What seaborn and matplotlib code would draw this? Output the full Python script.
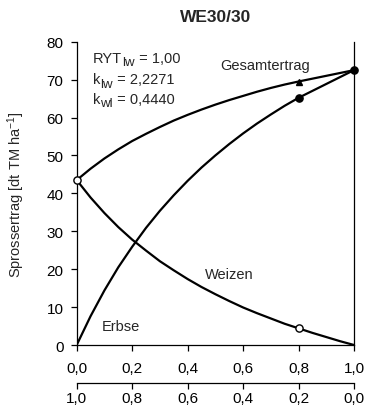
import matplotlib
matplotlib.use("Agg")
import matplotlib.pyplot as plt
import seaborn as sns
import numpy as np
from matplotlib.ticker import FuncFormatter

sns.set_theme(style="white")
plt.rcParams['font.family'] = ['Liberation Sans', 'DejaVu Sans']
plt.rcParams['mathtext.fontset'] = 'custom'
plt.rcParams['mathtext.rm'] = 'Liberation Sans'
plt.rcParams['mathtext.it'] = 'Liberation Sans:italic'
plt.rcParams['mathtext.bf'] = 'Liberation Sans:bold'

# ---- data ----
title = "WE30/30"

# proportion of Erbse in the mixture (top x axis)
x_erbse = [0.00, 0.05, 0.10, 0.15, 0.20, 0.25, 0.30, 0.35, 0.40, 0.45,
           0.50, 0.55, 0.60, 0.65, 0.70, 0.75, 0.80, 1.00]
erbse = [0.0, 7.6, 14.4, 20.5, 25.9, 30.9, 35.4, 39.5, 43.3, 46.8,
         50.0, 53.0, 55.8, 58.4, 60.8, 63.1, 65.2, 72.5]
gesamt = [43.5, 46.5, 49.2, 51.6, 53.8, 55.7, 57.5, 59.2, 60.7, 62.1,
          63.4, 64.6, 65.7, 66.8, 67.8, 68.7, 69.5, 72.5]

x_weizen = [0.00, 0.05, 0.10, 0.15, 0.20, 0.25, 0.30, 0.35, 0.40, 0.45,
            0.50, 0.55, 0.60, 0.65, 0.70, 0.75, 0.80, 0.85, 0.90, 0.95, 1.00]
weizen = [43.5, 38.9, 34.8, 31.1, 27.8, 24.9, 22.1, 19.7, 17.4, 15.3,
          13.4, 11.6, 9.9, 8.4, 7.0, 5.6, 4.4, 3.2, 2.1, 1.0, 0.0]

# measured points
weizen_pts_x = [0.0, 0.8]
weizen_pts_y = [43.5, 4.4]
erbse_pts_x = [0.8, 1.0]
erbse_pts_y = [65.2, 72.5]
gesamt_pts_x = [0.8]
gesamt_pts_y = [69.5]

x_ticks = [0.0, 0.2, 0.4, 0.6, 0.8, 1.0]
y_ticks = [0, 10, 20, 30, 40, 50, 60, 70, 80]

# (main, subscript, rest)
stats_lines = [("RYT", "lw", " = 1,00"),
               ("k", "lw", " = 2,2271"),
               ("k", "wl", " = 0,4440")]

# ---- figure ----
W, H = 369, 414
fig = plt.figure(figsize=(W / 100, H / 100), dpi=100)
left, right, top, bottom = 76.7, 354.0, 42.7, 346.0
ax = fig.add_axes([left / W, 1 - bottom / H, (right - left) / W, (bottom - top) / H])
ax.set_facecolor('white')

lw = 1.6
sns.lineplot(x=x_erbse, y=erbse, ax=ax, color='black', lw=lw, sort=False, estimator=None)
sns.lineplot(x=x_erbse, y=gesamt, ax=ax, color='black', lw=lw, sort=False, estimator=None)
sns.lineplot(x=x_weizen, y=weizen, ax=ax, color='black', lw=lw, sort=False, estimator=None)

ax.plot(weizen_pts_x, weizen_pts_y, 'o', ms=5.2, mfc='white', mec='black', mew=1.0,
        clip_on=False, zorder=5)
ax.plot(erbse_pts_x, erbse_pts_y, 'o', ms=5.2, mfc='black', mec='black',
        clip_on=False, zorder=5)
ax.plot(gesamt_pts_x, gesamt_pts_y, '^', ms=4.5, mfc='black', mec='black',
        clip_on=False, zorder=5)

ax.set_xlim(0, 1)
ax.set_ylim(0, 80)
ax.set_xticks(x_ticks)
ax.set_yticks(y_ticks)
comma = FuncFormatter(lambda v, p: f"{v:.1f}".replace('.', ','))
ax.xaxis.set_major_formatter(comma)
ax.set_xlabel('')
ax.set_ylabel('')

for s in ['left', 'bottom', 'right']:
    ax.spines[s].set_visible(True)
    ax.spines[s].set_color('black')
    ax.spines[s].set_linewidth(0.9)
ax.spines['top'].set_visible(False)

ax.tick_params(axis='x', direction='out', length=4, width=0.9, color='black',
               labelsize=11, pad=7.5, bottom=True, labelcolor='black')
ax.tick_params(axis='y', direction='out', length=4, width=0.9, color='black',
               labelsize=11, pad=5.5, left=True, right=False, labelcolor='black')

# second (reversed) x axis below
sec = ax.secondary_xaxis(-0.125, functions=(lambda x: 1 - x, lambda x: 1 - x))
sec.set_xticks(x_ticks)
sec.xaxis.set_major_formatter(comma)
sec.tick_params(axis='x', direction='out', length=4, width=0.9, color='black',
                labelsize=11, pad=1.5, labelcolor='black')
sec.spines['bottom'].set_color('black')
sec.spines['bottom'].set_linewidth(0.9)

# texts
fs = 10.5
sub_fs = 9.5
renderer = fig.canvas.get_renderer()
inv = ax.transData.inverted()


def sub_text(x, y, main, sub, rest, kern=0.0):
    t1 = ax.text(x, y, main, fontsize=fs, ha='left', va='baseline')
    bx, by = ax.transData.transform((x, y))
    x1 = t1.get_window_extent(renderer).x1
    xs, ys = inv.transform((x1 + kern, by - 3.5))
    t2 = ax.text(xs, ys, sub, fontsize=sub_fs, ha='left', va='baseline')
    x2 = t2.get_window_extent(renderer).x1
    xr, _ = inv.transform((x2, by))
    ax.text(xr, y, rest, fontsize=fs, ha='left', va='baseline')


sub_text(0.059, 74.7, *stats_lines[0], kern=0.0)
sub_text(0.059, 69.1, *stats_lines[1], kern=0.0)
sub_text(0.059, 63.9, *stats_lines[2], kern=0.0)
ax.text(0.681, 72.8, "Gesamtertrag", fontsize=fs, ha='center', va='baseline')
ax.text(0.551, 17.7, "Weizen", fontsize=fs, ha='center', va='baseline')
ax.text(0.161, 4.0, "Erbse", fontsize=fs, ha='center', va='baseline')

fig.text((left + right) / 2 / W, 1 - 17 / H, title, fontsize=12.5, fontweight='bold',
         ha='center', va='center')
ylab_main = "Sprossertrag [dt TM ha"
ylab_sup = "-1"
ylab_end = "]"
fig.text(16 / W, 1 - (top + bottom) / 2 / H,
         ylab_main + r"$^{\mathregular{" + ylab_sup + r"}}$" + ylab_end,
         fontsize=10.5, rotation=90, ha='center', va='center')

fig.savefig('out.png', dpi=100, facecolor='white')
